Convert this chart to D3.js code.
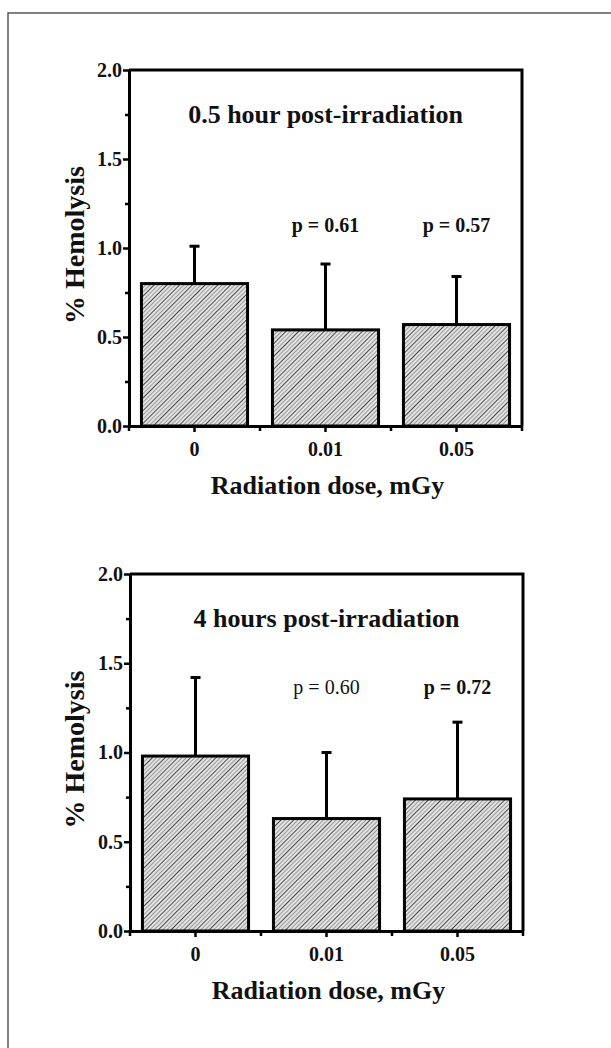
<!DOCTYPE html>
<html>
<head>
<meta charset="utf-8">
<script src="https://cdn.jsdelivr.net/npm/d3@7"></script>
<style>
  html, body { margin: 0; padding: 0; background: #fff; }
  svg { display: block; }
  text { font-family: "Liberation Serif", "Times New Roman", serif; font-weight: bold; fill: #111; }
</style>
</head>
<body>
<div id="chart"></div>
<script>
// values
const doses = ["0", "0.01", "0.05"];
const yTicks = [0, 0.5, 1.0, 1.5, 2.0];
const yMinorTicks = [0.25, 0.75, 1.25, 1.75];

const mean05h = [0.80, 0.54, 0.57];
const sd05h = [0.21, 0.37, 0.27];
const pText05h = ["", "p = 0.61", "p = 0.57"];
const pBold05h = [true, true, true];

const mean4h = [0.98, 0.63, 0.74];
const sd4h = [0.44, 0.37, 0.43];
const pText4h = ["", "p = 0.60", "p = 0.72"];
const pBold4h = [true, false, true];

function initChart() {
    const width = 611;
    const height = 1048;

    const svg = d3.select("#chart")
        .append("svg")
        .attr("width", width)
        .attr("height", height);

    // hatch for the bars
    const defs = svg.append("defs");
    const pat = defs.append("pattern")
        .attr("id", "hatch")
        .attr("patternUnits", "userSpaceOnUse")
        .attr("width", 9)
        .attr("height", 9)
        .attr("patternTransform", "rotate(45)");
    pat.append("rect").attr("width", 9).attr("height", 9).attr("fill", "#e2e2e2");
    pat.append("line").attr("x1", 1.5).attr("x2", 1.5).attr("y1", 0).attr("y2", 9)
        .attr("stroke", "#9a9a9a").attr("stroke-width", 1);
    pat.append("line").attr("x1", 4.5).attr("x2", 4.5).attr("y1", 0).attr("y2", 9)
        .attr("stroke", "#444").attr("stroke-width", 1);
    pat.append("line").attr("x1", 7.5).attr("x2", 7.5).attr("y1", 0).attr("y2", 9)
        .attr("stroke", "#9a9a9a").attr("stroke-width", 1);

    // outer frame (runs off the page on the right and bottom)
    svg.append("path")
        .attr("d", `M8,${height + 5}V13H${width + 5}`)
        .attr("fill", "none")
        .attr("stroke", "#555")
        .attr("stroke-width", 1.5);

    drawPanel(svg, {
        top: 70, bottom: 426, left: 129, right: 522,
        title: "0.5 hour post-irradiation",
        means: mean05h, sds: sd05h, pText: pText05h, pBold: pBold05h, pY: 232
    });

    drawPanel(svg, {
        top: 574, bottom: 931, left: 130, right: 523,
        title: "4 hours post-irradiation",
        means: mean4h, sds: sd4h, pText: pText4h, pBold: pBold4h, pY: 694
    });
}

function drawPanel(svg, cfg) {
    const g = svg.append("g");

    const x = d3.scaleBand()
        .domain(doses)
        .range([cfg.left, cfg.right])
        .paddingInner(0.19)
        .paddingOuter(0.095);

    const y = d3.scaleLinear()
        .domain([0, 2])
        .range([cfg.bottom, cfg.top]);

    const rows = doses.map((d, i) => ({
        dose: d, mean: cfg.means[i], sd: cfg.sds[i], p: cfg.pText[i], bold: cfg.pBold[i]
    }));

    // bars
    g.selectAll("rect.bar")
        .data(rows)
        .join("rect")
        .attr("class", "bar")
        .attr("x", d => x(d.dose))
        .attr("y", d => y(d.mean))
        .attr("width", x.bandwidth())
        .attr("height", d => y(0) - y(d.mean))
        .attr("fill", "url(#hatch)")
        .attr("stroke", "#000")
        .attr("stroke-width", 3);

    // upper error bars
    const cx = d => x(d.dose) + x.bandwidth() / 2;
    g.selectAll("line.err")
        .data(rows)
        .join("line")
        .attr("class", "err")
        .attr("x1", cx).attr("x2", cx)
        .attr("y1", d => y(d.mean))
        .attr("y2", d => y(d.mean + d.sd))
        .attr("stroke", "#000")
        .attr("stroke-width", 3);
    g.selectAll("line.cap")
        .data(rows)
        .join("line")
        .attr("class", "cap")
        .attr("x1", d => cx(d) - 5).attr("x2", d => cx(d) + 5)
        .attr("y1", d => y(d.mean + d.sd))
        .attr("y2", d => y(d.mean + d.sd))
        .attr("stroke", "#000")
        .attr("stroke-width", 3);

    // top and right frame
    g.append("path")
        .attr("d", `M${cfg.left},${cfg.top}H${cfg.right}V${cfg.bottom}`)
        .attr("fill", "none")
        .attr("stroke", "#000")
        .attr("stroke-width", 3);

    // y axis
    const yAxis = g.append("g")
        .attr("transform", `translate(${cfg.left},0)`)
        .call(d3.axisLeft(y).tickValues(yTicks).tickFormat(d3.format(".1f"))
            .tickSize(6).tickSizeOuter(0).tickPadding(1));
    yAxis.select(".domain").attr("stroke-width", 3);
    yAxis.selectAll(".tick line").attr("stroke-width", 2.5);
    yAxis.selectAll(".tick text")
        .attr("font-size", 20)
        .attr("font-family", null);

    g.append("g")
        .attr("transform", `translate(${cfg.left},0)`)
        .call(d3.axisLeft(y).tickValues(yMinorTicks).tickFormat("").tickSize(4).tickSizeOuter(0))
        .call(a => a.select(".domain").remove())
        .selectAll(".tick line").attr("stroke-width", 2.5);

    // x axis
    const xAxis = g.append("g")
        .attr("transform", `translate(0,${cfg.bottom})`)
        .call(d3.axisBottom(x).tickSize(6).tickSizeOuter(0).tickPadding(10));
    xAxis.select(".domain").attr("stroke-width", 3);
    xAxis.selectAll(".tick line").attr("stroke-width", 2.5);
    xAxis.selectAll(".tick text")
        .attr("font-size", 20)
        .attr("font-family", null);

    const bounds = d3.range(doses.length + 1).map(i => x.range()[0] + i * x.step());
    g.selectAll("line.minor")
        .data(bounds)
        .join("line")
        .attr("class", "minor")
        .attr("x1", d => d).attr("x2", d => d)
        .attr("y1", cfg.bottom).attr("y2", cfg.bottom + 5)
        .attr("stroke", "#000")
        .attr("stroke-width", 2.5);

    // p values
    g.selectAll("text.pval")
        .data(rows.filter(d => d.p))
        .join("text")
        .attr("class", "pval")
        .attr("x", cx)
        .attr("y", cfg.pY)
        .attr("text-anchor", "middle")
        .attr("font-size", 20)
        .style("font-weight", d => d.bold ? "bold" : "normal")
        .text(d => d.p);

    // title inside the plot
    g.append("text")
        .attr("x", (cfg.left + cfg.right) / 2)
        .attr("y", cfg.top + 53)
        .attr("text-anchor", "middle")
        .attr("font-size", 26)
        .text(cfg.title);

    // axis titles
    g.append("text")
        .attr("x", (cfg.left + cfg.right) / 2 + 2)
        .attr("y", cfg.bottom + 68)
        .attr("text-anchor", "middle")
        .attr("font-size", 26)
        .text("Radiation dose, mGy");

    g.append("text")
        .attr("transform", `translate(84,${(cfg.top + cfg.bottom) / 2 - 3}) rotate(-90)`)
        .attr("text-anchor", "middle")
        .attr("font-size", 28)
        .text("% Hemolysis");
}

window.onload = initChart;
</script>
</body>
</html>
